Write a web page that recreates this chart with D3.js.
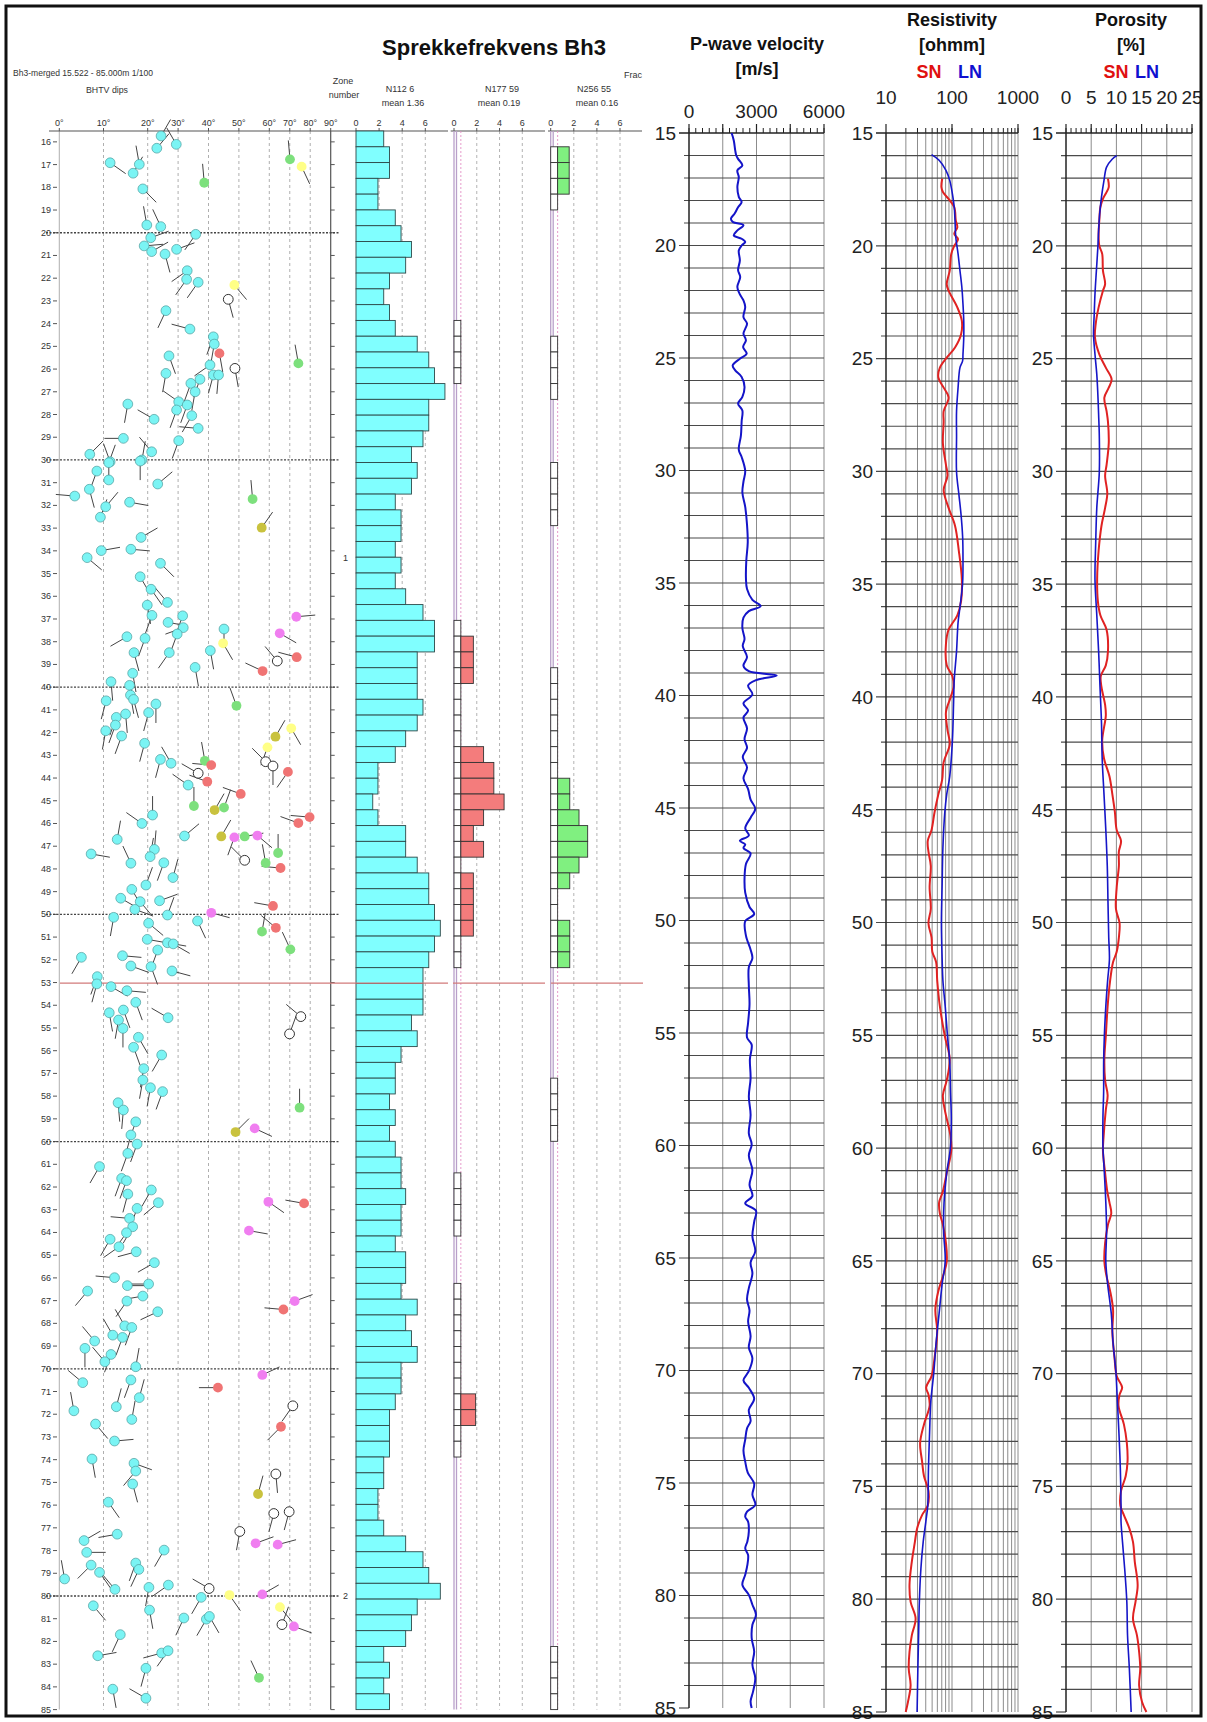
<!DOCTYPE html>
<html>
<head>
<meta charset="utf-8">
<script src="https://cdn.jsdelivr.net/npm/d3@7"></script>
<style>
  body { margin: 0; background: #fff; }
  svg { display: block; }
</style>
</head>
<body>
<script>
// ---------------- Data ----------------
// Borehole televiewer dips: [depth m, dip deg, dip azimuth deg (tail direction), fracture class]
// classes: c = cyan, g = green, y = yellow, r = red, m = magenta, o = olive, w = open
const dips = [
  [15.74,24.4,30,'c'],[16.11,29.4,330,'c'],[16.28,23.0,40,'c'],[16.92,11.5,125,'c'],[16.99,18.1,350,'c'],
  [17.38,16.7,30,'c'],[17.80,38.6,355,'g'],[16.77,70.1,355,'g'],[17.09,75.8,155,'y'],[18.07,18.9,135,'c'],
  [19.66,19.8,350,'c'],[19.73,24.3,335,'c'],[20.07,35.8,215,'c'],[20.22,21.0,70,'c'],[20.58,19.2,85,'c'],
  [20.83,21.3,60,'c'],[20.73,29.5,70,'c'],[20.94,25.7,165,'c'],[21.67,33.0,235,'c'],[22.05,32.8,215,'c'],
  [22.18,36.6,215,'c'],[22.30,48.5,140,'y'],[22.93,46.5,165,'w'],[23.43,26.0,205,'c'],[24.24,33.9,285,'c'],
  [24.58,41.6,200,'c'],[24.90,41.9,190,'c'],[25.31,43.6,170,'r'],[25.75,74.2,350,'g'],[25.42,27.0,160,'c'],
  [25.82,40.5,235,'c'],[25.97,48.7,170,'w'],[26.19,26.0,190,'c'],[26.26,41.6,195,'c'],[26.26,43.3,185,'c'],
  [26.45,37.2,200,'c'],[26.63,34.2,200,'c'],[27.00,35.6,190,'c'],[27.44,30.2,305,'c'],[27.54,15.5,190,'c'],
  [27.58,33.0,200,'c'],[27.80,29.5,200,'c'],[28.05,34.5,210,'c'],[28.21,22.1,300,'c'],[28.61,36.6,275,'c'],
  [29.15,30.2,200,'c'],[29.05,14.5,270,'c'],[29.64,21.3,320,'c'],[29.75,6.9,45,'c'],[30.00,18.7,10,'c'],
  [30.08,11.5,340,'c'],
  [30.49,8.5,200,'c'],[30.12,11.2,20,'c'],[30.05,18.3,180,'c'],[30.88,11.2,0,'c'],[31.06,23.3,50,'c'],
  [31.59,3.5,275,'c'],[31.29,6.8,165,'c'],[32.06,10.5,40,'c'],[31.86,15.9,100,'c'],[32.52,9.3,20,'c'],
  [31.72,54.5,355,'g'],[32.98,57.5,35,'o'],[33.41,18.5,60,'c'],[33.99,9.5,80,'c'],[33.93,16.2,95,'c'],
  [34.30,6.3,130,'c'],[34.55,24.2,135,'c'],[35.14,18.3,150,'c'],[35.69,21.1,145,'c'],[36.27,26.5,320,'c'],
  [36.39,19.9,170,'c'],[36.84,21.4,200,'c'],[36.86,31.5,200,'c'],[37.15,26.7,100,'c'],[37.38,31.7,250,'c'],
  [37.66,29.7,200,'c'],[37.78,15.3,240,'c'],[37.85,19.4,200,'c'],[37.44,45.1,180,'c'],[38.07,44.8,150,'y'],
  [36.90,73.2,85,'m'],[37.63,65.1,120,'m'],[38.48,16.9,165,'c'],[38.48,27.1,215,'c'],[38.39,40.6,170,'c'],
  [38.85,63.9,320,'w'],[38.68,73.4,285,'r'],[39.29,57.8,295,'r'],[39.13,35.6,170,'c'],[39.39,16.6,170,'c'],
  [39.76,11.7,175,'c'],[39.92,15.9,160,'c'],[40.35,16.1,170,'c'],[40.54,16.8,165,'c'],[40.60,10.6,195,'c'],
  [40.74,22.7,180,'c'],[41.12,20.3,195,'c'],[40.82,49.2,340,'g'],[41.33,12.9,200,'c'],[41.18,15.0,175,'c'],
  [41.67,12.7,200,'c'],[41.92,10.5,190,'c'],[42.15,14.1,200,'c'],[42.47,19.3,195,'c'],[41.81,70.7,150,'y'],
  [42.18,63.0,30,'o'],[42.65,59.4,200,'y'],[43.28,58.8,315,'w'],[43.47,61.8,180,'w'],[43.18,24.2,195,'c'],
  [43.35,27.7,330,'c'],[43.24,38.8,350,'g'],[43.43,40.9,275,'r'],[43.79,36.6,300,'w'],[44.16,39.6,290,'r'],
  [43.73,69.1,215,'r'],[44.31,33.3,305,'c'],[44.70,50.6,290,'r'],[45.23,35.2,0,'g'],[45.41,42.0,30,'o'],
  [45.63,21.6,0,'c'],
  [46.00,18.7,305,'c'],[46.70,13.1,10,'c'],[46.55,32.1,50,'c'],[47.34,7.2,100,'c'],[47.14,22.2,5,'c'],
  [47.46,20.8,10,'c'],[47.75,16.2,335,'c'],[47.73,25.3,200,'c'],[48.38,28.3,15,'c'],[48.71,19.6,20,'c'],
  [48.90,16.4,150,'c'],[49.29,13.9,120,'c'],[49.44,18.3,140,'c'],[49.40,23.9,70,'c'],[49.78,17.1,110,'c'],
  [50.03,26.5,20,'c'],[50.13,12.3,190,'c'],[50.39,20.3,130,'c'],[50.29,36.4,155,'c'],[51.10,19.9,100,'c'],
  [51.25,26.5,100,'c'],[51.30,28.4,120,'c'],[51.57,23.3,200,'c'],[51.82,14.3,95,'c'],[51.89,5.0,210,'c'],
  [52.27,16.2,110,'c'],[52.30,21.1,160,'c'],[52.49,28.0,105,'c'],[49.93,40.9,105,'m'],[49.63,61.8,280,'r'],
  [50.59,63.2,310,'r'],[50.76,57.6,10,'g'],[51.54,70.3,335,'g'],[46.57,44.2,30,'o'],[46.61,48.5,200,'m'],
  [46.57,51.9,80,'g'],[46.53,56.1,130,'m'],[47.30,64.3,0,'g'],[47.62,51.9,315,'w'],[47.74,58.8,350,'g'],
  [47.96,65.5,275,'r'],[45.98,74.2,290,'r'],[45.72,79.7,275,'r'],[45.30,45.1,20,'g'],[52.74,8.6,200,'c'],
  [53.06,8.5,195,'c'],[53.18,11.7,120,'c'],[53.36,15.3,95,'c'],[53.87,17.3,160,'c'],[54.33,11.3,170,'c'],
  [54.21,14.5,160,'c'],[54.55,26.7,300,'c'],[54.65,13.4,190,'c'],[55.02,14.4,180,'c'],[55.41,17.9,150,'c'],
  [55.85,16.8,160,'c'],[56.19,24.6,210,'c'],[56.79,19.1,190,'c'],[57.29,18.9,190,'c'],[57.63,20.9,190,'c'],
  [57.80,24.9,200,'c'],[58.29,13.3,175,'c'],[58.61,14.5,185,'c'],[59.13,17.3,200,'c'],[59.71,16.2,195,'c'],
  [60.11,17.6,200,'c'],[60.52,15.5,200,'c'],[54.50,75.4,310,'w'],[55.26,69.9,20,'w'],[58.51,74.8,0,'g'],
  [59.58,48.9,45,'o'],[59.42,55.2,115,'m'],
  [61.10,9.1,210,'c'],[61.62,14.1,200,'c'],[61.72,15.2,200,'c'],[62.31,15.5,195,'c'],[62.13,21.2,210,'c'],
  [62.69,23.5,230,'c'],[62.94,17.6,200,'c'],[62.65,59.7,125,'m'],[62.72,77.0,280,'r'],[63.38,15.9,275,'c'],
  [63.75,16.6,210,'c'],[64.01,15.2,215,'c'],[64.30,11.5,210,'c'],[64.63,13.5,235,'c'],[64.85,17.4,255,'c'],
  [63.92,53.3,100,'m'],[65.33,22.2,240,'c'],[65.99,12.5,275,'c'],[66.34,15.4,90,'c'],[66.27,20.3,270,'c'],
  [66.58,6.4,220,'c'],[66.80,18.9,260,'c'],[67.02,15.3,215,'c'],[67.02,72.4,70,'m'],[67.39,66.9,275,'r'],
  [67.49,23.3,245,'c'],[68.11,14.8,330,'c'],[68.18,16.4,200,'c'],[68.52,12.1,330,'c'],[68.62,14.3,200,'c'],
  [68.78,8.0,320,'c'],[69.10,5.8,180,'c'],[69.37,11.7,200,'c'],[69.69,10.3,320,'c'],[69.91,17.3,10,'c'],
  [70.27,57.7,65,'m'],[70.49,16.2,200,'c'],[70.61,5.3,310,'c'],[71.27,18.1,15,'c'],[70.83,43.1,270,'r'],
  [71.67,12.9,15,'c'],[71.85,3.3,350,'c'],[72.23,16.4,10,'c'],[71.63,71.5,215,'w'],[72.55,65.7,225,'r'],
  [72.43,8.2,140,'c'],[73.18,12.5,85,'c'],[73.97,7.4,170,'c'],[74.16,16.9,110,'c'],[74.50,17.3,220,'c'],
  [75.07,16.6,165,'c'],[74.63,63.2,175,'w'],[75.51,56.3,15,'o'],[75.87,11.1,145,'c'],[76.37,62.2,195,'w'],
  [76.29,69.7,195,'w'],
  [77.16,50.3,190,'w'],[77.28,13.1,260,'c'],[77.56,5.6,60,'c'],[77.68,55.5,70,'m'],[77.74,64.1,75,'m'],
  [77.98,25.4,210,'c'],[78.08,6.2,90,'c'],[78.55,17.3,200,'c'],[78.64,7.2,225,'c'],[78.83,18.0,205,'c'],
  [78.96,9.1,145,'c'],[79.25,1.2,350,'c'],[79.71,12.6,320,'c'],[79.62,20.4,190,'c'],[79.52,26.8,235,'c'],
  [79.67,40.2,300,'w'],[79.96,46.9,145,'y'],[79.93,57.7,60,'m'],[80.06,37.6,210,'c'],[80.43,7.7,140,'c'],
  [80.62,20.6,170,'c'],[80.49,65.2,140,'y'],[80.97,31.9,205,'c'],[81.02,39.3,210,'c'],[80.90,40.3,150,'c'],
  [81.26,66.2,20,'w'],[81.34,72.0,110,'m'],[81.70,13.8,205,'c'],[82.63,8.7,80,'c'],[82.51,24.6,255,'c'],
  [82.41,26.7,215,'c'],[83.18,19.6,195,'c'],[83.60,56.6,335,'g'],[84.10,12.1,170,'c'],[84.50,19.6,300,'c']
];

// Fracture frequency per depth bin (100 bins, 15.522 - 85.000 m)
const freqAll = [
  2.4,2.9,2.9,1.9,1.9,3.4,3.9,4.8,4.3,2.9, 2.4,2.9,3.4,5.3,6.3,6.8,7.7,6.3,6.3,5.8,
  4.8,5.3,4.8,3.4,3.9,3.9,3.4,3.9,3.4,4.3, 5.8,6.8,6.8,5.3,5.3,5.3,5.8,5.3,4.3,3.4,
  1.9,1.9,1.45,1.9,4.3,4.3,5.3,6.3,6.3,6.8, 7.3,6.8,6.3,5.8,5.8,5.8,4.8,5.3,3.9,3.4,
  3.4,2.9,3.4,2.9,3.4,3.9,3.9,4.3,3.9,3.9, 3.4,4.3,4.3,3.9,5.3,4.3,4.8,5.3,3.9,3.9,
  3.4,2.9,2.9,2.9,2.4,2.4,1.9,1.9,2.4,4.3, 5.8,6.3,7.3,5.3,4.8,4.3,2.4,2.9,2.4,2.9
];
const freqN177 = [
  0,0,0,0,0,0,0,0,0,0, 0,0,0.6,0.6,0.6,0.6,0,0,0,0,
  0,0,0,0,0,0,0,0,0,0, 0,0.6,1.7,1.7,1.7,0.6,0.6,0.6,0.6,2.6,
  3.5,3.5,4.4,2.6,1.7,2.6,0.6,1.7,1.7,1.7, 1.7,0.6,0.6,0,0,0,0,0,0,0,
  0,0,0,0,0,0,0.6,0.6,0.6,0.6, 0,0,0,0.6,0.6,0.6,0.6,0.6,0.6,0.6,
  1.9,1.9,0.6,0.6,0,0,0,0,0,0, 0,0,0,0,0,0,0,0,0,0
];
const freqN256 = [
  0,1.6,1.6,1.6,0.6,0,0,0,0,0, 0,0,0,0.6,0.6,0.6,0.6,0,0,0,
  0,0.6,0.6,0.6,0.6,0,0,0,0,0, 0,0,0,0,0.6,0.6,0.6,0.6,0.6,0.6,
  0.6,1.65,1.65,2.45,3.2,3.2,2.45,1.65,0.6,0.6, 1.65,1.65,1.65,0,0,0,0,0,0,0,
  0.6,0.6,0.6,0.6,0,0,0,0,0,0, 0,0,0,0,0,0,0,0,0,0,
  0,0,0,0,0,0,0,0,0,0, 0,0,0,0,0,0,0.6,0.6,0.6,0.6
];

// P-wave velocity log [depth m, m/s]
const pwave = [
  [15.0,1894],[15.33,1990],[15.77,2054],[16.0,2101],[16.15,2181],[16.44,2372],[16.66,2149],[16.96,2213],
  [17.4,2149],[17.84,2213],[18.07,2340],[18.3,2181],[18.59,2022],[18.81,1863],[18.96,1958],[19.1,2420],
  [19.33,2149],[19.55,1990],[19.7,2340],[19.84,2499],[20.0,2340],[20.22,2213],[20.66,2261],[21.1,2181],
  [21.4,2277],[21.84,2149],[22.14,2245],[22.44,2420],[22.73,2499],[23.18,2420],[23.47,2579],[23.7,2499],
  [23.92,2420],[24.21,2531],[24.51,2404],[24.81,2563],[25.03,2261],[25.33,1942],[25.55,2054],[25.84,2340],
  [26.29,2468],[26.73,2372],[27.03,2181],[27.33,2372],[27.81,2340],[28.44,2308],[29.08,2213],[29.4,2340],
  [30.03,2499],[30.5,2420],[30.98,2372],[31.62,2499],[32.41,2579],[33.2,2611],[34.0,2547],[34.79,2531],
  [35.27,2579],[35.75,2818],[36.03,3184],[36.25,2659],[36.54,2420],[37.0,2372],[37.49,2468],[37.8,2388],
  [38.29,2579],[38.68,2420],[38.92,2659],[39.11,3900],[39.32,2977],[39.56,2627],[39.95,2818],[40.35,2420],
  [40.67,2627],[40.98,2420],[41.46,2579],[41.94,2468],[42.33,2579],[42.73,2388],[43.2,2579],[43.68,2420],
  [44.16,2627],[44.63,2738],[45.03,2945],[45.43,2738],[45.9,2499],[46.22,2659],[46.46,2261],[46.62,2499],
  [46.78,2420],[47.02,2738],[47.49,2531],[48.13,2468],[48.76,2499],[49.4,2690],[49.71,2897],[50.03,2499],
  [50.67,2531],[51.3,2738],[51.67,2818],[52.08,2659],[52.9,2659],[53.72,2690],[54.54,2627],[55.2,2579],
  [55.52,2786],[56.18,2706],[57.0,2738],[57.82,2659],[58.64,2738],[59.46,2659],[59.95,2786],[60.44,2659],
  [61.1,2818],[61.75,2690],[62.25,2818],[62.57,2499],[62.9,2977],[63.39,2897],[64.05,2818],[64.7,2945],
  [65.2,2738],[65.69,2818],[66.34,2659],[66.84,2579],[67.33,2690],[67.82,2627],[68.48,2738],[68.97,2659],
  [69.46,2818],[70.03,2659],[70.44,2420],[70.77,2659],[71.26,2897],[71.75,2659],[72.25,2738],[72.57,2579],
  [73.07,2499],[73.56,2420],[74.05,2499],[74.54,2611],[75.03,2897],[75.52,2818],[75.98,2945],[76.27,2579],
  [76.5,2499],[76.72,2627],[77.16,2659],[77.6,2595],[77.9,2499],[78.2,2627],[78.64,2595],[79.08,2499],
  [79.53,2372],[79.97,2659],[80.41,2818],[80.86,2977],[81.3,2818],[81.89,2786],[82.49,2897],[83.08,2818],
  [83.67,2945],[84.26,2849],[84.7,2738],[85.0,2786]
];

// Resistivity, long normal (LN) and short normal (SN) [depth m, ohmm]
const resLN = [
  [15.96,49.0],[16.21,63.8],[16.66,81.0],[17.1,92.4],[17.7,101.4],[18.29,108.2],[18.88,111.1],[19.62,114.1],
  [20.36,123.6],[21.1,132.0],[21.84,141.0],[22.59,146.7],[23.33,150.7],[24.07,150.7],[24.81,146.7],[25.1,144.8],
  [25.4,132.0],[26.29,123.6],[27.33,117.2],[28.44,117.2],[30.03,117.2],[31.0,126.9],[31.94,137.3],[32.89,144.8],
  [33.84,146.7],[34.95,144.8],[35.9,133.7],[36.7,123.6],[37.97,117.2],[39.24,108.2],[40.35,105.5],[41.94,101.4],
  [43.52,92.4],[44.32,83.2],[45.11,77.8],[46.7,72.8],[48.29,70.9],[50.03,69.1],[51.62,70.9],[52.57,72.8],
  [53.72,78.9],[55.03,85.4],[56.18,92.4],[57.49,94.9],[58.64,97.5],[59.95,94.9],[61.1,83.2],[62.41,75.8],
  [63.72,74.8],[65.03,78.9],[66.02,70.9],[67.33,63.8],[68.64,57.4],[69.95,53.0],[71.26,47.7],[72.57,45.8],
  [74.2,44.0],[75.85,42.9],[76.57,40.1],[77.46,36.6],[78.64,33.8],[80.12,32.0],[81.6,31.2],[83.08,30.4],
  [85.0,29.6]
];
const resSN = [
  [17.03,71.0],[17.4,69.1],[17.62,72.8],[17.92,88.8],[18.29,108.2],[18.88,114.1],[19.18,120.4],[19.47,108.2],
  [19.7,123.6],[20.0,108.2],[20.36,97.5],[21.1,92.4],[21.7,83.2],[21.99,88.8],[22.73,120.4],[23.33,141.0],
  [23.92,137.3],[24.51,111.1],[24.96,83.2],[25.4,65.5],[25.84,62.1],[26.29,74.8],[26.73,88.8],[27.33,74.8],
  [27.81,74.8],[28.76,72.8],[29.71,81.0],[30.19,85.4],[30.83,74.8],[31.62,88.8],[32.41,111.1],[33.52,126.9],
  [34.79,141.0],[35.75,137.3],[36.38,120.4],[37.02,88.8],[37.65,81.0],[38.6,83.2],[39.08,101.4],[39.56,105.5],
  [40.03,94.9],[40.67,81.0],[41.46,85.4],[42.1,92.4],[42.89,74.8],[43.68,70.9],[44.32,62.1],[45.11,54.4],
  [45.9,49.0],[46.38,42.9],[46.86,44.0],[47.49,47.7],[48.44,45.8],[49.4,47.7],[50.03,44.0],[50.67,49.0],
  [51.3,50.3],[51.75,57.4],[52.57,59.7],[53.72,65.5],[55.03,77.8],[56.05,92.4],[57.0,83.2],[57.66,72.8],
  [58.31,77.8],[59.46,94.9],[60.11,97.5],[61.1,83.2],[61.92,72.8],[62.41,63.8],[62.9,65.5],[63.39,72.8],
  [64.21,81.0],[65.03,83.2],[65.69,72.8],[66.34,62.1],[67.16,55.9],[68.15,59.7],[69.3,54.4],[70.11,49.0],
  [70.61,40.6],[70.93,44.0],[71.43,45.8],[72.25,37.6],[73.07,32.9],[73.89,35.2],[74.54,37.6],[75.2,44.0],
  [75.85,42.9],[76.27,35.2],[76.86,29.6],[77.46,27.4],[78.34,24.6],[79.38,22.7],[80.12,23.6],[80.86,28.1],
  [81.6,24.6],[82.34,22.7],[83.08,22.1],[83.82,23.6],[84.56,21.5],[85.0,19.9]
];

// Porosity, LN and SN [depth m, %]
const porLN = [
  [16.0,10.06],[16.15,9.2],[16.51,8.05],[17.1,7.54],[17.84,7.04],[18.59,6.68],[19.33,6.47],[20.07,6.32],
  [21.1,6.03],[22.14,5.75],[23.03,5.6],[23.92,5.46],[24.81,5.75],[25.7,6.11],[26.59,6.32],[27.47,6.47],
  [28.44,6.61],[30.03,6.61],[31.62,6.11],[33.2,5.89],[34.79,5.75],[36.38,6.11],[37.97,6.47],[39.56,6.75],
  [41.14,7.04],[42.73,7.18],[44.32,7.54],[45.9,7.9],[47.49,8.19],[49.08,8.33],[50.67,8.48],[51.62,8.62],
  [52.57,8.26],[53.72,7.9],[55.03,7.61],[56.18,7.47],[57.49,7.47],[58.64,7.33],[59.95,7.33],[61.1,7.61],
  [62.41,7.9],[63.72,8.05],[65.03,7.9],[66.02,8.26],[67.33,8.98],[68.64,9.34],[69.95,9.91],[71.26,10.2],
  [72.57,10.49],[74.2,10.78],[75.85,10.92],[76.57,10.92],[77.46,11.21],[78.64,11.64],[80.12,12.07],[81.6,12.21],
  [83.08,12.57],[85.0,12.93]
];
const porSN = [
  [17.03,8.33],[17.4,8.48],[17.62,8.05],[17.92,7.33],[18.29,6.82],[18.88,6.61],[19.47,6.47],[20.0,6.61],
  [20.36,7.18],[21.1,7.33],[21.7,7.76],[21.99,7.33],[22.73,6.47],[23.47,5.89],[24.07,5.75],[24.81,6.61],
  [25.4,7.9],[25.92,9.05],[26.29,8.48],[26.73,7.61],[27.33,8.05],[27.81,8.33],[28.76,8.48],[29.71,8.05],
  [30.19,7.76],[30.98,8.19],[31.62,7.76],[32.41,7.04],[33.52,6.47],[34.79,6.18],[35.75,6.32],[36.38,6.82],
  [37.02,8.05],[37.97,8.33],[38.6,7.9],[39.08,6.9],[39.56,7.04],[40.35,7.76],[40.83,7.9],[41.94,7.18],
  [42.73,7.54],[43.52,8.62],[44.32,9.2],[45.11,9.7],[45.9,10.06],[46.38,10.92],[46.86,10.49],[47.49,10.49],
  [48.44,10.06],[49.4,9.91],[50.03,10.63],[50.67,10.49],[51.3,10.06],[51.75,9.34],[52.57,8.76],[53.72,8.26],
  [55.03,7.9],[56.05,7.61],[57.0,7.76],[57.66,8.26],[58.31,7.9],[59.46,7.47],[60.11,7.33],[61.1,7.76],
  [61.92,8.19],[62.41,8.62],[62.9,8.98],[63.39,8.33],[64.21,7.76],[65.03,7.61],[65.69,8.05],[66.34,8.76],
  [67.16,9.34],[68.15,9.2],[69.3,9.63],[70.11,10.06],[70.61,11.14],[70.93,10.63],[71.43,10.42],[72.25,11.49],
  [73.07,12.07],[73.89,12.21],[74.54,11.85],[75.2,10.92],[75.85,10.78],[76.27,11.49],[76.86,12.57],[77.46,13.29],
  [78.34,13.65],[79.38,14.22],[80.12,13.79],[80.86,13.29],[81.6,14.08],[82.34,14.51],[83.08,14.73],[83.82,14.51],
  [84.56,15.09],[85.0,15.95]
];

// Tick labels
const dipTicks = [0,10,20,30,40,50,60,70,80,90];
const freqTicks = [0,2,4,6];
const zoneBounds = [20,30,40,50,60,70,80];
const zoneLabels = [[34.3,'1'],[80.0,'2']];
const pwaveTicks = [0,3000,6000];
const resTicks = [10,100,1000];
const porTicks = [0,5,10,15,20,25];

// ---------------- Drawing ----------------
const W = 1207, H = 1722;
const SANS = "'Liberation Sans', Arial, Helvetica, sans-serif";
const NARROW = "'Liberation Sans Narrow', 'Arial Narrow', 'Liberation Sans', sans-serif";

const svg = d3.select("body").append("svg").attr("width", W).attr("height", H);
svg.append("rect").attr("width", W).attr("height", H).attr("fill", "#fff");

// ===== Left composite: dips + fracture frequency =====
const TOP = 131, BOT = 1709.6;
const depthY = d3.scaleLinear().domain([15.522, 85]).range([TOP, BOT]);
const dipX = d3.scaleLinear().domain([0, 20, 60, 90]).range([59.3, 147.7, 269.3, 330.7]);

const left = svg.append("g");

// header text
left.append("text").attr("x", 494).attr("y", 55).attr("text-anchor", "middle")
  .attr("font-family", SANS).attr("font-weight", "bold").attr("font-size", 22)
  .attr("fill", "#111").text("Sprekkefrekvens Bh3");

const small = (x, y, txt, anchor, len) => {
  const t = left.append("text").attr("x", x).attr("y", y).attr("text-anchor", anchor || "start")
    .attr("font-family", NARROW).attr("font-size", 9).attr("fill", "#333").text(txt);
  if (len) t.attr("textLength", len).attr("lengthAdjust", "spacingAndGlyphs");
  return t;
};
small(13, 76, "Bh3-merged  15.522 - 85.000m  1/100", "start", 140);
small(107, 93, "BHTV dips", "middle", 42);
small(343, 84, "Zone", "middle");
small(344, 98, "number", "middle");
small(400, 92, "N112  6", "middle");
small(403, 106, "mean 1.36", "middle");
small(502, 92, "N177 59", "middle");
small(499, 106, "mean 0.19", "middle");
small(594, 92, "N256 55", "middle");
small(597, 106, "mean 0.16", "middle");
small(642, 78, "Frac", "end");

// dip track grid
dipTicks.forEach(t => {
  const x = dipX(t);
  left.append("line").attr("x1", x).attr("x2", x).attr("y1", TOP).attr("y2", BOT)
    .attr("stroke", t === 90 ? "#555" : "#9a9a9a")
    .attr("stroke-width", t === 90 ? 1.2 : 0.8)
    .attr("stroke-dasharray", (t === 0 || t === 90) ? null : "3,3");
  left.append("line").attr("x1", x).attr("x2", x).attr("y1", TOP - 3).attr("y2", TOP).attr("stroke", "#555");
  small(x, TOP - 5, t + "°", "middle");
});
left.append("line").attr("x1", 49).attr("x2", 340).attr("y1", TOP).attr("y2", TOP)
  .attr("stroke", "#555").attr("stroke-width", 1.2);

// depth ticks and labels on dip track
d3.range(16, 86).forEach(d => {
  const y = depthY(d);
  small(51, y + 3, String(d), "end");
  left.append("line").attr("x1", 53).attr("x2", 57).attr("y1", y).attr("y2", y).attr("stroke", "#555");
  left.append("line").attr("x1", dipX(90)).attr("x2", dipX(90) + 4).attr("y1", y).attr("y2", y).attr("stroke", "#555");
});

// zone boundaries
zoneBounds.forEach(d => {
  left.append("line").attr("x1", 46).attr("x2", 339).attr("y1", depthY(d)).attr("y2", depthY(d))
    .attr("stroke", "#444").attr("stroke-width", 1.3).attr("stroke-dasharray", "2,1.5");
});
zoneLabels.forEach(([d, s]) => small(343, depthY(d) + 3, s, "start"));

// fracture frequency panels
const binCount = freqAll.length;
const binH = (85 - 15.522) / binCount;
const panels = [
  { data: freqAll,  x: d3.scaleLinear().domain([0, 6]).range([356, 425.3]), a0: 340, a1: 448, fill: "#80ffff", offset: false },
  { data: freqN177, x: d3.scaleLinear().domain([0, 6]).range([454, 522.3]), a0: 450.7, a1: 545, fill: "#f47c7c", offset: true },
  { data: freqN256, x: d3.scaleLinear().domain([0, 6]).range([550.7, 620]), a0: 548, a1: 642, fill: "#80f080", offset: true }
];
const BASE = 0.6;
panels.forEach(p => {
  const g = left.append("g");
  freqTicks.forEach(t => {
    const x = p.x(t);
    if (t > 0) g.append("line").attr("x1", x).attr("x2", x).attr("y1", TOP).attr("y2", BOT)
      .attr("stroke", "#a0a0a0").attr("stroke-width", 0.8).attr("stroke-dasharray", "3,3");
    g.append("line").attr("x1", x).attr("x2", x).attr("y1", TOP - 3).attr("y2", TOP).attr("stroke", "#555");
    small(x, TOP - 5, String(t), "middle");
  });
  g.append("line").attr("x1", p.a0).attr("x2", p.a1).attr("y1", TOP).attr("y2", TOP)
    .attr("stroke", "#555").attr("stroke-width", 1.2);
  if (p.offset) {
    g.append("line").attr("x1", p.x(0)).attr("x2", p.x(0)).attr("y1", TOP).attr("y2", BOT)
      .attr("stroke", "#b9a0c9").attr("stroke-width", 1.3);
    g.append("line").attr("x1", p.x(0) + 2.5).attr("x2", p.x(0) + 2.5).attr("y1", TOP).attr("y2", BOT)
      .attr("stroke", "#b9a0c9").attr("stroke-width", 1.3);
    g.append("line").attr("x1", p.x(BASE)).attr("x2", p.x(BASE)).attr("y1", TOP).attr("y2", BOT)
      .attr("stroke", "#e38fc4").attr("stroke-width", 0.9).attr("stroke-dasharray", "2,2");
  }
  p.data.forEach((v, i) => {
    if (!v) return;
    const y0 = depthY(15.522 + i * binH), y1 = depthY(15.522 + (i + 1) * binH);
    if (p.offset) {
      g.append("rect").attr("x", p.x(0)).attr("y", y0).attr("width", p.x(BASE) - p.x(0)).attr("height", y1 - y0)
        .attr("fill", "#fff").attr("stroke", "#333").attr("stroke-width", 0.9);
      if (v > BASE) g.append("rect").attr("x", p.x(BASE)).attr("y", y0).attr("width", p.x(v) - p.x(BASE))
        .attr("height", y1 - y0).attr("fill", p.fill).attr("stroke", "#333").attr("stroke-width", 0.9);
    } else {
      g.append("rect").attr("x", p.x(0)).attr("y", y0).attr("width", p.x(v) - p.x(0)).attr("height", y1 - y0)
        .attr("fill", p.fill).attr("stroke", "#2c4848").attr("stroke-width", 0.9);
    }
  });
});

// marker line at 53 m
[[60, 448], [453, 545], [551, 643]].forEach(([a, b]) => {
  left.append("line").attr("x1", a).attr("x2", b).attr("y1", depthY(53.03)).attr("y2", depthY(53.03))
    .attr("stroke", "#d27a7a").attr("stroke-width", 1.3);
});

// tadpoles
const dipColor = { c: "#7af4f4", g: "#7de07d", y: "#ffff86", r: "#f07474", m: "#f07ef0", o: "#c9c23e", w: "#ffffff" };
const tailLen = 19;
const gTad = left.append("g");
gTad.selectAll("line.tail").data(dips).join("line").attr("class", "tail")
  .attr("x1", d => dipX(d[1])).attr("y1", d => depthY(d[0]))
  .attr("x2", d => dipX(d[1]) + Math.sin(d[2] * Math.PI / 180) * tailLen)
  .attr("y2", d => depthY(d[0]) - Math.cos(d[2] * Math.PI / 180) * tailLen)
  .attr("stroke", "#444").attr("stroke-width", 1);
gTad.selectAll("circle").data(dips).join("circle")
  .attr("cx", d => dipX(d[1])).attr("cy", d => depthY(d[0])).attr("r", 4.9)
  .attr("fill", d => dipColor[d[3]])
  .attr("stroke", d => d[3] === 'w' ? "#333" : d[3] === 'c' ? "#4f9c9c" : "none")
  .attr("stroke-width", d => d[3] === 'w' ? 1 : 0.7);

// ===== Right tracks: logs =====
const yP = d3.scaleLinear().domain([15, 85]).range([133, 1708]);
const yR = d3.scaleLinear().domain([15, 85]).range([133, 1712]);
const xP = d3.scaleLinear().domain([0, 6000]).range([689, 824]);
const xR = d3.scaleLog().domain([10, 1000]).range([886, 1018]);
const xPh = d3.scaleLinear().domain([0, 25]).range([1066, 1192]);

function track(opts) {
  const { x, y, x0, x1, grid, minor, major, labels, labelY } = opts;
  const g = svg.append("g");
  // vertical grid
  grid.forEach(v => {
    g.append("line").attr("x1", x(v)).attr("x2", x(v)).attr("y1", y(15)).attr("y2", y(85))
      .attr("stroke", "#8c8c8c").attr("stroke-width", 1);
  });
  // horizontal depth grid
  d3.range(16, 86).forEach(d => {
    const maj = d % 5 === 0;
    g.append("line").attr("x1", x0 - (maj ? 10 : 5)).attr("x2", d === 85 ? x0 : x1)
      .attr("y1", y(d)).attr("y2", y(d)).attr("stroke", "#4a4a4a").attr("stroke-width", 1.2);
    if (maj) g.append("text").attr("x", x0 - 13).attr("y", y(d)).attr("dy", "0.36em")
      .attr("text-anchor", "end").attr("font-family", SANS).attr("font-size", 19).attr("fill", "#222").text(d);
  });
  g.append("text").attr("x", x0 - 13).attr("y", y(15)).attr("dy", "0.36em")
    .attr("text-anchor", "end").attr("font-family", SANS).attr("font-size", 19).attr("fill", "#222").text(15);
  // axes
  g.append("line").attr("x1", x0).attr("x2", x0).attr("y1", y(15)).attr("y2", y(85))
    .attr("stroke", "#222").attr("stroke-width", 1.5);
  g.append("line").attr("x1", x0 - 10).attr("x2", x1).attr("y1", y(15)).attr("y2", y(15))
    .attr("stroke", "#222").attr("stroke-width", 1.5);
  minor.forEach(v => g.append("line").attr("x1", x(v)).attr("x2", x(v)).attr("y1", y(15) - 5).attr("y2", y(15))
    .attr("stroke", "#222").attr("stroke-width", 1));
  major.forEach(v => g.append("line").attr("x1", x(v)).attr("x2", x(v)).attr("y1", y(15) - 9).attr("y2", y(15))
    .attr("stroke", "#222").attr("stroke-width", 1.2));
  labels.forEach(v => g.append("text").attr("x", x(v)).attr("y", labelY).attr("text-anchor", "middle")
    .attr("font-family", SANS).attr("font-size", 19).attr("fill", "#222").text(v));
  return g;
}

// P-wave
const gP = track({ x: xP, y: yP, x0: 689, x1: 824, grid: [1500, 3000, 4500, 6000],
  minor: d3.range(0, 6001, 300), major: [0, 1500, 3000, 4500, 6000], labels: pwaveTicks, labelY: 118 });
gP.append("path").datum(pwave)
  .attr("d", d3.line().x(d => xP(d[1])).y(d => yP(d[0])).curve(d3.curveCatmullRom.alpha(0.5)))
  .attr("fill", "none").attr("stroke", "#1414c8").attr("stroke-width", 2);

// Resistivity
const resGrid = [20,30,40,50,60,70,80,90,100,200,300,400,500,600,700,800,900,1000];
const gR = track({ x: xR, y: yR, x0: 886, x1: 1018, grid: resGrid,
  minor: resGrid, major: resTicks, labels: resTicks, labelY: 104 });
gR.append("path").datum(resSN)
  .attr("d", d3.line().x(d => xR(d[1])).y(d => yR(d[0])).curve(d3.curveCatmullRom.alpha(0.5)))
  .attr("fill", "none").attr("stroke", "#e02222").attr("stroke-width", 2);
gR.append("path").datum(resLN)
  .attr("d", d3.line().x(d => xR(d[1])).y(d => yR(d[0])).curve(d3.curveCatmullRom.alpha(0.5)))
  .attr("fill", "none").attr("stroke", "#1616c8").attr("stroke-width", 1.6);

// Porosity
const gPh = track({ x: xPh, y: yR, x0: 1066, x1: 1192, grid: [5, 10, 15, 20, 25],
  minor: d3.range(0, 26, 1), major: porTicks, labels: porTicks, labelY: 104 });
gPh.append("path").datum(porSN)
  .attr("d", d3.line().x(d => xPh(d[1])).y(d => yR(d[0])).curve(d3.curveCatmullRom.alpha(0.5)))
  .attr("fill", "none").attr("stroke", "#e02222").attr("stroke-width", 2);
gPh.append("path").datum(porLN)
  .attr("d", d3.line().x(d => xPh(d[1])).y(d => yR(d[0])).curve(d3.curveCatmullRom.alpha(0.5)))
  .attr("fill", "none").attr("stroke", "#1616c8").attr("stroke-width", 1.6);

// track headers
const head = (x, y, txt, color) => svg.append("text").attr("x", x).attr("y", y).attr("text-anchor", "middle")
  .attr("font-family", SANS).attr("font-weight", "bold").attr("font-size", 18).attr("fill", color || "#111").text(txt);
head(757, 50, "P-wave velocity");
head(757, 75, "[m/s]");
head(952, 26, "Resistivity");
head(952, 51, "[ohmm]");
head(929, 78, "SN", "#e01010");
head(970, 78, "LN", "#1010d0");
head(1131, 26, "Porosity");
head(1131, 51, "[%]");
head(1116, 78, "SN", "#e01010");
head(1147, 78, "LN", "#1010d0");

// outer frame
svg.append("rect").attr("x", 6).attr("y", 6).attr("width", 1195).attr("height", 1710)
  .attr("fill", "none").attr("stroke", "#111").attr("stroke-width", 3);
</script>
</body>
</html>
